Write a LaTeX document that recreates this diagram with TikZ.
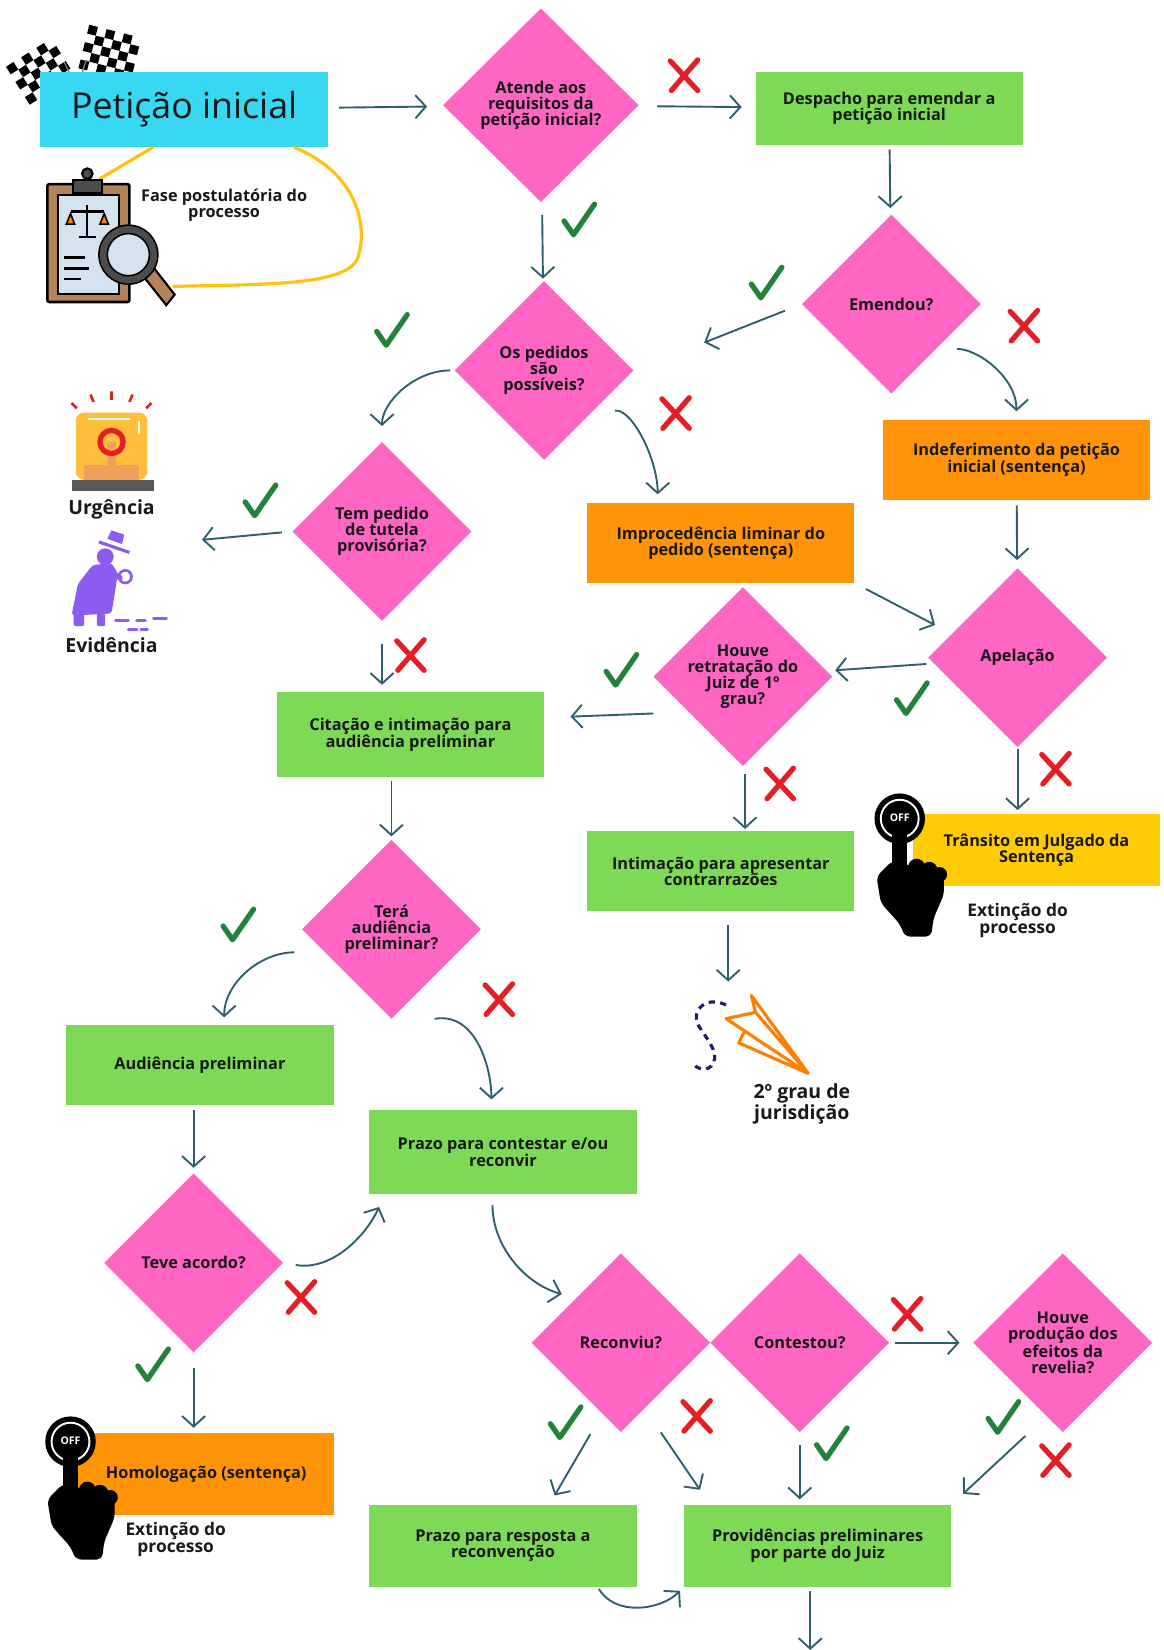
\documentclass[tikz,border=0pt]{standalone}
\usepackage{fontspec}
\setmainfont{Open Sans}
\usetikzlibrary{shapes.geometric, arrows.meta}
\definecolor{rosa}{HTML}{FF66C4}
\definecolor{verde}{HTML}{7ED957}
\definecolor{laranja}{HTML}{FF9408}
\definecolor{ciano}{HTML}{38D7F2}
\definecolor{amarelo}{HTML}{FFCB05}
\definecolor{ouro}{HTML}{FFC20E}
\definecolor{azulseta}{HTML}{2F5F6E}
\definecolor{verdeok}{HTML}{23823A}
\definecolor{vermelho}{HTML}{E31E24}
\definecolor{roxo}{HTML}{8C5BF0}
\definecolor{roxoescuro}{HTML}{2B1A6B}
\definecolor{marrom}{HTML}{B5835A}
\definecolor{papel}{HTML}{D5E3EE}
\definecolor{sirene}{HTML}{FFBE3B}
\definecolor{base}{HTML}{F0A05A}
\tikzstyle{every node}=[font=\bfseries\fontsize{15.5}{15.5}\selectfont, text=black!90]
\tikzstyle{caixa}=[rectangle, minimum width=254pt, minimum height=76pt, align=center, inner sep=3pt]
\tikzstyle{acao}=[caixa, fill=verde]
\tikzstyle{sentenca}=[caixa, fill=laranja]
\tikzstyle{pergunta}=[diamond, fill=rosa, minimum width=170pt, minimum height=170pt, inner sep=0pt, align=center]
\tikzstyle{rotulo}=[align=center, font=\bfseries\fontsize{16.5}{16.5}\selectfont]
\tikzstyle{seta}=[draw=azulseta, line width=1.8pt, -{Straight Barb[length=10pt, width=22pt, line width=1.8pt]}, shorten <=5pt, shorten >=8pt]
\tikzstyle{laco}=[draw=ouro, line width=3pt, line cap=round]
\tikzset{
  pics/certo/.style={code={
    \draw[verdeok, line width=5pt, line cap=round, line join=round] (-14,0) -- (-5,13) -- (15,-16);
  }},
  pics/errado/.style={code={
    \draw[vermelho, line width=5pt, line cap=round] (-13,-14) -- (13,14) (13,-15) -- (-12,14);
  }},
  pics/desligar/.style={code={
    \fill[black] (0,0) circle (24);
    \draw[white, line width=1.8pt] (0,0) circle (18);
    \node[text=white, font=\bfseries\fontsize{10}{10}\selectfont] (-texto) at (0,-1) {OFF};
    \fill[black] (-7,12) rectangle (7,70);
    \fill[black] (0,12) circle (7);
    \fill[black, rounded corners=5pt] (-7,40) -- (-22,55) -- (-18,80) -- (0,100) -- (5,112) -- (30,112) -- (32,95) -- (42,72) -- (42,50) -- (7,44) -- cycle;
    \fill[black] (16,46) circle (8) (28,49) circle (8) (38,53) circle (7);
  }}
}

\begin{document}
\begin{tikzpicture}[x=1pt, y=-1pt]
  \useasboundingbox (0,0) rectangle (1106,1568);
  \fill[white] (0,0) rectangle (1106,1568);

  \begin{scope}[shift={(38,68)}, rotate=32]
    \foreach \i in {0,...,5}
      \foreach \j in {0,...,4}
        {\ifodd\numexpr\i+\j\relax\else\fill (\i*8.5-25,\j*8.5-21) rectangle ++(8.5,8.5);\fi}
  \end{scope}
  \begin{scope}[shift={(104,50)}, rotate=-14]
    \foreach \i in {0,...,5}
      \foreach \j in {0,...,4}
        {\ifodd\numexpr\i+\j\relax\else\fill (\i*8.5-25,\j*8.5-21) rectangle ++(8.5,8.5);\fi}
  \end{scope}
  \draw[gray, line width=1.2pt] (61,59) -- (78,93) (82,57) -- (70,93);

  \node[caixa, fill=ciano, minimum width=274pt, minimum height=72pt, font=\mdseries\fontsize{34}{34}\selectfont] (peticao) at (175,104) {Petição inicial};
  \node[pergunta, minimum width=186pt, minimum height=184pt] (atende) at (514,100) {Atende aos\\requisitos da\\petição inicial?};
  \node[acao, minimum height=70pt] (despacho) at (845,103) {Despacho para emendar a\\petição inicial};
  \node[pergunta] (emendou) at (847,289) {Emendou?};
  \node[pergunta] (possiveis) at (517,352) {Os pedidos\\são\\possíveis?};
  \node[sentenca] (indeferimento) at (966,437) {Indeferimento da petição\\inicial (sentença)};
  \node[sentenca] (improcedencia) at (685,516) {Improcedência liminar do\\pedido (sentença)};
  \node[pergunta] (tutela) at (363,505) {Tem pedido\\de tutela\\provisória?};
  \node[pergunta] (apelacao) at (967,625) {Apelação};
  \node[pergunta] (retratacao) at (706,643) {Houve\\retratação do\\Juiz de 1º\\grau?};
  \node[acao, minimum height=80pt] (citacao) at (390,698) {Citação e intimação para\\audiência preliminar};
  \node[acao] (intimacao) at (685,828) {Intimação para apresentar\\contrarrazões};
  \node[caixa, fill=amarelo, minimum width=234pt, minimum height=68pt] (transito) at (985,808) {Trânsito em Julgado da\\Sentença};
  \node[pergunta] (tera) at (372,883) {Terá\\audiência\\preliminar?};
  \node[acao] (preliminar) at (190,1012) {Audiência preliminar};
  \node[acao, minimum height=80pt] (prazo) at (478,1095) {Prazo para contestar e/ou\\reconvir};
  \node[pergunta] (acordo) at (184,1200) {Teve acordo?};
  \node[sentenca, minimum width=243pt, minimum height=78pt] (homologacao) at (196,1401) {Homologação (sentença)};
  \node[pergunta] (reconviu) at (590,1276) {Reconviu?};
  \node[pergunta] (contestou) at (760,1276) {Contestou?};
  \node[pergunta] (revelia) at (1010,1276) {Houve\\produção dos\\efeitos da\\revelia?};
  \node[acao, minimum height=78pt] (resposta) at (478,1469) {Prazo para resposta a\\reconvenção};
  \node[acao, minimum height=78pt] (providencias) at (777,1469) {Providências preliminares\\por parte do Juiz};

  \node[rotulo, font=\bfseries\fontsize{15.5}{16}\selectfont] (fase) at (213,195) {Fase postulatória do\\processo};
  \node[rotulo, font=\bfseries\fontsize{18.5}{18.5}\selectfont] (urgencia) at (106,484) {Urgência};
  \node[rotulo, font=\bfseries\fontsize{18.5}{18.5}\selectfont] (evidencia) at (106,613) {Evidência};
  \node[rotulo] (extincao) at (967,875) {Extinção do\\processo};
  \node[rotulo] (extincao2) at (167,1463) {Extinção do\\processo};
  \node[rotulo, font=\bfseries\fontsize{18.5}{17.5}\selectfont] (jurisdicao) at (762,1049) {2º grau de\\jurisdição};
  \node[minimum width=123pt, minimum height=130pt] (prancheta) at (103,225) {};
  \node[minimum width=110pt, minimum height=80pt] (aviao) at (692,985) {};
  \coordinate (tipos) at (192,513);
  \coordinate (continua) at (770,1568);

  \draw[laco] ([xshift=-30pt]peticao.south) -- ([xshift=-8pt,yshift=-10pt]prancheta.north);
  \draw[laco] ([xshift=105pt]peticao.south) .. controls (340,165) and (350,215) .. (340,245) .. controls (330,272) and (250,270) .. ([yshift=18pt]prancheta.south east);

  \begin{scope}[shift={(prancheta.center)}]
    \filldraw[fill=marrom, draw=black, line width=2.5pt, rounded corners=2pt] (-58,-50) rectangle (20,62);
    \filldraw[fill=papel, draw=black, line width=2pt] (-48,-40) rectangle (10,54);
    \filldraw[fill=gray!60!black, draw=black, line width=2pt] (-34,-54) rectangle (-6,-42);
    \filldraw[fill=gray!60!black, draw=black, line width=2pt] (-20,-60) circle (5);
    \draw[line width=2pt] (-20,-30) -- (-20,0) (-28,0) -- (-12,0) (-36,-24) -- (-4,-24);
    \filldraw[fill=orange, draw=black, line width=1.5pt] (-40,-12) -- (-32,-12) -- (-36,-22) -- cycle;
    \filldraw[fill=orange, draw=black, line width=1.5pt] (-8,-12) -- (0,-12) -- (-4,-22) -- cycle;
    \draw[line width=2.5pt] (-42,20) -- (-22,20) (-42,30) -- (-18,30) (-42,40) -- (-26,40);
    \filldraw[fill=marrom, draw=black, line width=2pt] (32,36) -- (42,28) -- (63,55) -- (55,65) -- cycle;
    \filldraw[fill=papel, draw=gray!60!black, line width=7pt] (19,17) circle (24);
    \draw[black, line width=1.5pt] (19,17) circle (28) (19,17) circle (20);
  \end{scope}

  \begin{scope}[shift={(106,420)}]
    \draw[vermelho, line width=2.5pt] (0,-48) -- (0,-40) (-20,-45) -- (-17,-38) (20,-45) -- (17,-38) (-38,-37) -- (-33,-32) (38,-37) -- (33,-32);
    \fill[sirene, rounded corners=8pt] (-34,36) -- (-34,-28) -- (34,-28) -- (34,36) -- cycle;
    \draw[white, line width=1.5pt] (-22,-22) -- (18,-22) (26,-20) -- (26,-8);
    \fill[base] (-4,0) rectangle (4,22) (-26,22) rectangle (26,36);
    \draw[vermelho, line width=5pt] (0,0) circle (11);
    \fill[gray!70!black] (-38,36) rectangle (40,47);
  \end{scope}

  \begin{scope}[shift={(108,555)}]
    \fill[roxo] (-6,-43) -- (8,-38) -- (10,-47) -- (-2,-51) -- cycle;
    \draw[roxo, line width=3pt] (-14,-40) -- (15,-30);
    \fill[roxo] (-8,-26) circle (8);
    \fill[roxo, rounded corners=3pt] (-20,-18) -- (-2,-20) -- (4,-10) -- (-2,28) -- (-40,30) -- (-34,0) -- cycle;
    \draw[roxo, line width=5pt, line cap=round] (-4,-12) -- (6,-6);
    \draw[roxo, line width=2.5pt] (11,-7) circle (6);
    \fill[roxo, rounded corners=2pt] (-38,28) rectangle (-28,40) (-16,28) rectangle (-8,40);
    \draw[roxo, line width=3pt, line cap=round] (2,35) -- (14,35) (22,35) -- (30,35) (38,33) -- (50,33) (14,43) -- (22,43) (26,43) -- (32,43);
  \end{scope}

  \begin{scope}[shift={(aviao.center)}]
    \draw[roxoescuro, line width=3pt, dash pattern=on 6pt off 5pt] (-2,-30) .. controls (-23,-40) and (-38,-22) .. (-26,-7) .. controls (-16,8) and (-8,18) .. (-16,28) .. controls (-22,34) and (-32,30) .. (-34,24);
    \draw[orange, line width=3pt, line join=round] (76,35) -- (-2,-17) -- (26,-23) -- cycle (76,35) -- (22,-39) -- (26,-23) (76,35) -- (10,6) -- (16,-6);
  \end{scope}

  \pic (botao) at (855,778) {desligar};
  \pic (botao2) at (67,1370) {desligar};

  \draw[seta, shorten <=10pt, shorten >=16pt] (peticao) -- (atende);
  \draw[seta, shorten <=18pt, shorten >=13pt] (atende) -- (despacho);
  \draw[seta, shorten <=4pt, shorten >=7pt] (despacho) -- (emendou);
  \draw[seta, shorten <=17pt, shorten >=72pt] (emendou.west) -- (possiveis.east);
  \draw[seta, shorten <=20pt, shorten >=8pt] (emendou.south east) to[out=0, in=90] (indeferimento.north);
  \draw[seta, shorten <=13pt, shorten >=3pt] (atende) -- (possiveis);
  \draw[seta, shorten <=4pt, shorten >=15pt] (possiveis.west) to[out=180, in=90] (tutela.north);
  \draw[seta, shorten <=25pt, shorten >=8pt] (possiveis.south east) to[out=10, in=90] ([xshift=-60pt]improcedencia.north);
  \draw[seta, shorten <=5pt, shorten >=8pt] (indeferimento) -- (apelacao);
  \draw[seta, shorten <=12pt, shorten >=18pt] (improcedencia.south east) -- (apelacao.160);
  \draw[seta, shorten <=7pt, shorten >=8pt] (apelacao) -- (retratacao);
  \draw[seta, shorten <=0pt, shorten >=25pt] ([yshift=-35pt]retratacao.west) -- ([yshift=16pt]citacao.east);
  \draw[seta, shorten <=7pt, shorten >=2pt] ([xshift=2pt]retratacao.south) -- ([xshift=2pt]retratacao.south |- intimacao.north);
  \draw[seta, shorten <=13pt, shorten >=12pt] ([xshift=7pt]intimacao.south) -- (aviao.north);
  \draw[seta, shorten <=2pt, shorten >=4pt] (apelacao.south) -- (apelacao.south |- transito.north);
  \draw[seta, shorten <=10pt, shorten >=0pt] (tutela.west) -- (tipos);
  \draw[seta, shorten <=22pt, shorten >=7pt] (tutela.south) -- (tutela.south |- citacao.north);
  \draw[seta, shorten <=4pt, shorten >=3pt] (tera.north |- citacao.south) -- (tera.north);
  \draw[seta, shorten <=7pt, shorten >=7pt] ([yshift=-22pt]tera.west) to[out=180, in=90] ([xshift=23pt]preliminar.north);
  \draw[seta, shorten <=0pt, shorten >=10pt] ([xshift=41pt]tera.south) to[out=10, in=90] ([xshift=-11pt]prazo.north);
  \draw[seta, shorten <=5pt, shorten >=5pt] (acordo.north |- preliminar.south) -- (acordo.north);
  \draw[seta, shorten <=12pt, shorten >=13pt] (acordo.east) to[out=-10, in=245] ([xshift=15pt]prazo.south west);
  \draw[seta, shorten <=15pt, shorten >=5pt] (acordo.south) -- (acordo.south |- homologacao.north);
  \draw[seta, shorten <=10pt, shorten >=14pt] ([xshift=-10pt]prazo.south) to[out=270, in=165] (reconviu.north west);
  \draw[seta, shorten <=2pt, shorten >=10pt] ([xshift=-28pt]reconviu.south) -- ([xshift=44pt]resposta.north);
  \draw[seta, shorten <=0pt, shorten >=17pt] ([xshift=38pt]reconviu.south) -- ([xshift=25pt]providencias.north west);
  \draw[seta, shorten <=12pt, shorten >=5pt] (contestou.south) -- (contestou.south |- providencias.north);
  \draw[seta, shorten <=5pt, shorten >=13pt] (contestou.east) -- (revelia.west);
  \draw[seta, shorten <=5pt, shorten >=15pt] ([xshift=-32pt]revelia.south) -- (providencias.north east);
  \draw[seta, shorten <=2pt, shorten >=5pt] ([xshift=-37pt]resposta.south east) to[out=-60, in=225] (providencias.south west);
  \draw[seta, shorten <=4pt, shorten >=0pt] ([xshift=-7pt]providencias.south) -- (continua);

  \pic at (650,72) {errado};
  \pic at (550,210) {certo};
  \pic at (728,270) {certo};
  \pic at (973,310) {errado};
  \pic at (372,315) {certo};
  \pic at (642,393) {errado};
  \pic at (247,477) {certo};
  \pic at (390,623) {errado};
  \pic at (866,665) {certo};
  \pic at (1003,731) {errado};
  \pic at (590,638) {certo};
  \pic at (741,745) {errado};
  \pic at (226,880) {certo};
  \pic at (474,950) {errado};
  \pic at (286,1233) {errado};
  \pic at (145,1298) {certo};
  \pic at (537,1353) {certo};
  \pic at (662,1346) {errado};
  \pic at (790,1373) {certo};
  \pic at (862,1249) {errado};
  \pic at (953,1348) {certo};
  \pic at (1003,1388) {errado};
\end{tikzpicture}
\end{document}
